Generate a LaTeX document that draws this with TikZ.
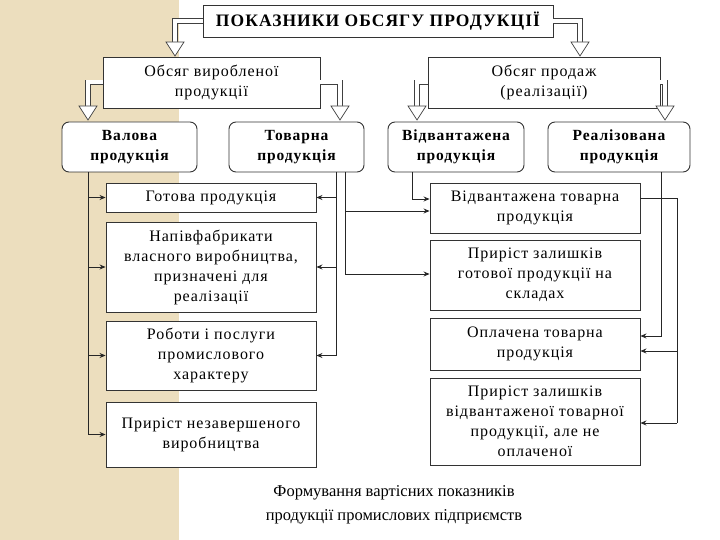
\documentclass[tikz,border=0pt]{standalone}
\usepackage{fontspec}
\setmainfont{Liberation Serif}[LetterSpace=6]
\usetikzlibrary{arrows.meta}
\definecolor{beige}{RGB}{236,222,190}
\tikzset{
 box/.style={draw=black!80,line width=0.9pt,fill=white,align=center,font=\fontsize{16}{20}\selectfont,inner sep=1pt},
 rbox/.style={box,rounded corners=7pt,font=\bfseries\fontsize{15.5}{20}\selectfont},
 hol/.style={draw=black!75,line width=0.7pt,double=white,double distance=4pt},
 head/.style={draw=black!75,line width=0.7pt,fill=white},
 con/.style={draw=black!85,line width=0.8pt},
 arr/.style={con,-{Stealth[length=6pt,width=5pt]}}
}
\newcommand{\harrow}[3]{% from point #1 horizontal to x=#2 then down to tip y=#3
 \draw[hol] (#1) -| (#2,#3-13);
 \draw[head] (#2-9,#3-14) -- (#2+9,#3-14) -- (#2,#3) -- cycle;}
\begin{document}
\begin{tikzpicture}[x=1pt,y=-1pt]
\useasboundingbox (0,0) rectangle (720,540);
\fill[white] (0,0) rectangle (720,540);
\fill[beige] (0,0) rectangle (179,540);
% top
\node[box,minimum width=350,minimum height=32,font=\bfseries\fontsize{17.5}{20}\selectfont] (top) at (378,21) {ПОКАЗНИКИ ОБСЯГУ ПРОДУКЦІЇ};
\node[box,minimum width=217,minimum height=51] (A) at (211.5,82.5) {Обсяг виробленої\\продукції};
\node[box,minimum width=232,minimum height=51] (B) at (544,82.5) {Обсяг продаж\\(реалізації)};
\harrow{top.west}{175}{56}
\harrow{top.east}{580}{56}
\harrow{A.west}{88}{120}
\harrow{A.east}{340}{120}
\harrow{B.west}{417}{120}
\harrow{B.east}{665}{120}
\node[rbox,minimum width=135,minimum height=50] (V) at (129.5,147) {Валова\\продукція};
\node[rbox,minimum width=135,minimum height=50] (T) at (296.5,147) {Товарна\\продукція};
\node[rbox,minimum width=136,minimum height=50] (W) at (456,147) {Відвантажена\\продукція};
\node[rbox,minimum width=142,minimum height=50] (R) at (619,147) {Реалізована\\продукція};
% left column
\node[box,minimum width=210,minimum height=29] (L1) at (211,197.5) {Готова продукція};
\node[box,minimum width=210,minimum height=90] (L2) at (211,267) {Напівфабрикати\\власного виробництва,\\призначені для\\реалізації};
\node[box,minimum width=210,minimum height=69] (L3) at (211,355.5) {Роботи і послуги\\промислового\\характеру};
\node[box,minimum width=210,minimum height=65] (L4) at (211,434.5) {Приріст незавершеного\\виробництва};
% right column
\node[box,minimum width=210,minimum height=50] (R1) at (535,208) {Відвантажена товарна\\продукція};
\node[box,minimum width=210,minimum height=70] (R2) at (535,275) {Приріст залишків\\готової продукції на\\складах};
\node[box,minimum width=210,minimum height=52] (R3) at (535,344) {Оплачена товарна\\продукція};
\node[box,minimum width=210,minimum height=87] (R4) at (535,421.5) {Приріст залишків\\відвантаженої товарної\\продукції, але не\\оплаченої};
% connectors
\coordinate (vt) at (88,172);
\draw[con] (vt) -- (88,434.5);
\foreach \n in {L1,L2,L3,L4} \draw[arr] (88,0 |- \n.west) -- (\n.west);
\coordinate (tt) at (336,172);
\draw[con] (tt) -- (336,355.5);
\foreach \n in {L1,L2,L3} \draw[arr] (336,0 |- \n.east) -- (\n.east);
\coordinate (ts) at (345,172);
\draw[con] (ts) -- (345,274);
\draw[arr] (345,211) -- (R1.west |- 0,211);
\draw[arr] (345,274) -- (R2.west |- 0,274);
\draw[arr] (412,172) |- (R1.west |- 0,199);
\draw[arr] (661,172) |- (R3.east |- 0,336);
\coordinate (rr) at (677,198);
\draw[con] (R1.east |- rr) -- (rr) -- (677,423);
\draw[arr] (677,351) -- (R3.east |- 0,351);
\draw[arr] (677,423) -- (R4.east |- 0,423);
\node[font=\addfontfeature{LetterSpace=0}\fontsize{16.5}{24}\selectfont,align=center] (cap) at (394,505) {Формування вартісних показників\\продукції промислових підприємств};
\end{tikzpicture}
\end{document}
